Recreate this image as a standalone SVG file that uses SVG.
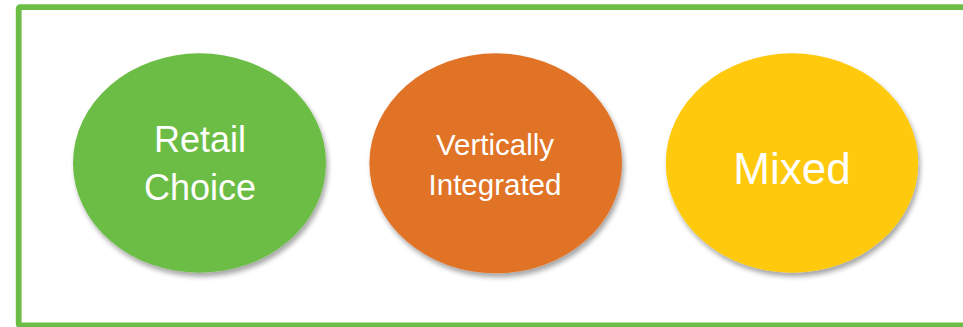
<svg xmlns="http://www.w3.org/2000/svg" width="963" height="327" viewBox="0 0 963 327">
  <defs>
    <filter id="shadow" x="-10%" y="-10%" width="125%" height="130%">
      <feDropShadow dx="2" dy="4" stdDeviation="2.5" flood-color="#000" flood-opacity="0.35"/>
    </filter>
    <style>
      .node { filter: url(#shadow); }
      .lbl { fill: #ffffff; font-family: "Liberation Sans", Arial, sans-serif; text-anchor: middle; }
      .frame { fill: #ffffff; stroke: #6CBD45; stroke-width: 5.8; stroke-linejoin: round; }
    </style>
  </defs>
  <rect x="0" y="0" width="963" height="327" fill="#ffffff"/>
  <rect class="frame" x="18.7" y="7.2" width="960" height="318.3" rx="1.5"/>
  <g id="connectors"></g>
  <g id="node-retail">
    <ellipse class="node" cx="199.5" cy="163" rx="126.5" ry="109.7" fill="#6CBD45"/>
    <text class="lbl" x="200" y="152" font-size="36">Retail</text>
    <text class="lbl" x="200" y="200" font-size="36">Choice</text>
  </g>
  <g id="node-vertical">
    <ellipse class="node" cx="495.7" cy="163.3" rx="126.3" ry="110" fill="#E07328"/>
    <text class="lbl" x="495" y="155" font-size="29.5">Vertically</text>
    <text class="lbl" x="495" y="194.5" font-size="29.5">Integrated</text>
  </g>
  <g id="node-mixed">
    <ellipse class="node" cx="792" cy="163" rx="126.2" ry="109.7" fill="#FFCA08"/>
    <text class="lbl" x="792" y="183.5" font-size="44">Mixed</text>
  </g>
</svg>
